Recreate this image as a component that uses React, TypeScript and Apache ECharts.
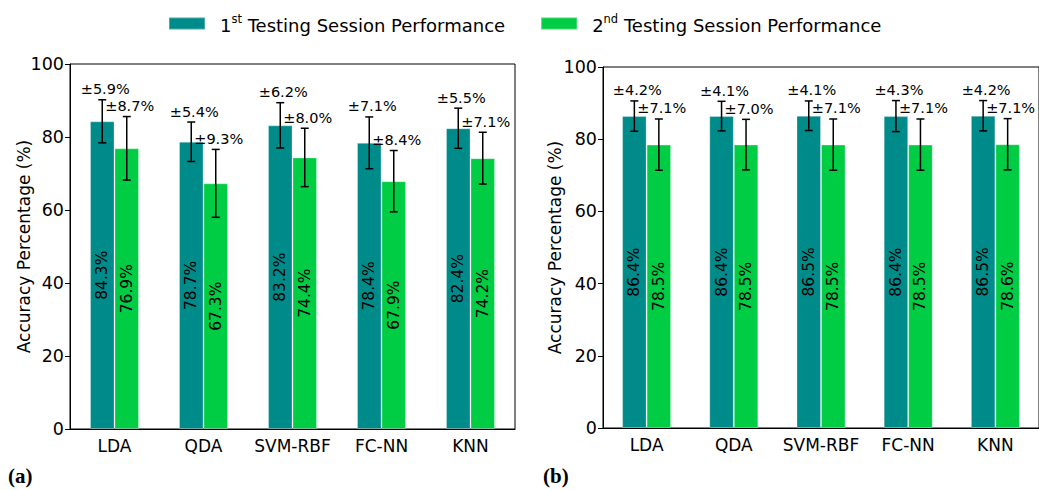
import React, { useEffect, useRef } from "react";
import * as echarts from "echarts";

const categories = ["LDA", "QDA", "SVM-RBF", "FC-NN", "KNN"];
const aSession1 = [84.3, 78.7, 83.2, 78.4, 82.4];
const aSession1Err = [5.9, 5.4, 6.2, 7.1, 5.5];
const aSession2 = [76.9, 67.3, 74.4, 67.9, 74.2];
const aSession2Err = [8.7, 9.3, 8.0, 8.4, 7.1];
const bSession1 = [86.4, 86.4, 86.5, 86.4, 86.5];
const bSession1Err = [4.2, 4.1, 4.1, 4.3, 4.2];
const bSession2 = [78.5, 78.5, 78.5, 78.5, 78.6];
const bSession2Err = [7.1, 7.0, 7.1, 7.1, 7.1];
const yTicks = [0, 20, 40, 60, 80, 100];

const S1 = "1st Testing Session Performance";
const S2 = "2nd Testing Session Performance";
const TEAL = "#008b8b";
const GREEN = "#00cc44";
const FONT = "DejaVu Sans";
const BAR_W = 24.5;

function barSeries(name: string, data: number[], color: string, gi: number) {
  return {
    type: "bar",
    name,
    xAxisIndex: gi,
    yAxisIndex: gi,
    data,
    barWidth: BAR_W,
    barGap: "0%",
    itemStyle: { color, borderColor: "rgba(255,255,255,0.28)", borderWidth: 1 },
    label: {
      show: true,
      position: "inside",
      rotate: 90,
      fontFamily: FONT,
      fontSize: 15.5,
      color: "#000",
      formatter: (p: any) => Number(p.value).toFixed(1) + "%",
    },
    z: 2,
  };
}

function errSeries(vals: number[], errs: number[], side: number, gi: number) {
  return {
    type: "custom",
    name: "err" + gi + side,
    xAxisIndex: gi,
    yAxisIndex: gi,
    clip: false,
    z: 5,
    encode: { x: 0, y: 1 },
    data: vals.map((v, i) => [i, v, errs[i]]),
    renderItem: (params: any, api: any) => {
      const i = api.value(0);
      const v = api.value(1);
      const e = api.value(2);
      const c = api.coord([i, v]);
      const x = c[0] + side * (BAR_W / 2);
      const yt = api.coord([i, v + e])[1];
      const yb = api.coord([i, v - e])[1];
      const ls = { stroke: "#000", lineWidth: 1.5 };
      return {
        type: "group",
        children: [
          { type: "line", shape: { x1: x, y1: yt, x2: x, y2: yb }, style: ls },
          { type: "line", shape: { x1: x - 4, y1: yt, x2: x + 4, y2: yt }, style: ls },
          { type: "line", shape: { x1: x - 4, y1: yb, x2: x + 4, y2: yb }, style: ls },
          {
            type: "text",
            x: x + 3,
            y: yt - 3,
            style: {
              text: "±" + Number(e).toFixed(1) + "%",
              fontFamily: FONT,
              fontSize: 14.5,
              fill: "#000",
              align: "center",
              verticalAlign: "bottom",
            },
          },
        ],
      };
    },
  };
}

function yAxis(gi: number, gap: number) {
  return {
    type: "value",
    gridIndex: gi,
    min: yTicks[0],
    max: yTicks[yTicks.length - 1],
    interval: 20,
    name: "Accuracy Percentage (%)",
    nameLocation: "middle",
    nameGap: gap,
    nameMoveOverlap: false,
    nameTextStyle: { fontFamily: FONT, fontSize: 17, color: "#000" },
    axisLine: { show: true, lineStyle: { color: "#000", width: 1 } },
    axisTick: { show: true, length: 5, lineStyle: { color: "#000" } },
    axisLabel: { fontFamily: FONT, fontSize: 17.5, color: "#000", margin: 6 },
    splitLine: { show: false },
  };
}

function xAxis(gi: number) {
  return {
    type: "category",
    gridIndex: gi,
    data: categories,
    boundaryGap: true,
    axisLine: { show: true, lineStyle: { color: "#000", width: 1 } },
    axisTick: { show: false },
    axisLabel: { fontFamily: FONT, fontSize: 17, color: "#000", margin: 8, interval: 0 },
  };
}

export default function App() {
  const ref = useRef<HTMLDivElement>(null);
  useEffect(() => {
    if (!ref.current) return;
    const chart = echarts.init(ref.current, null, { renderer: "svg" });
    chart.setOption({
      animation: false,
      backgroundColor: "#fff",
      legend: {
        data: [S1, S2],
        left: 163,
        top: 8,
        icon: "rect",
        itemWidth: 36,
        itemHeight: 12,
        itemGap: 35,
        formatter: (name: string) =>
          name === S1
            ? "{n|1}{sup|st}{n| Testing Session Performance}"
            : "{n|2}{sup|nd}{n| Testing Session Performance}",
        textStyle: {
          fontFamily: FONT,
          fontSize: 18,
          color: "#000",
          padding: [0, 0, 0, 10],
          rich: {
            n: { fontFamily: FONT, fontSize: 18, color: "#000", lineHeight: 21, verticalAlign: "bottom" },
            sup: { fontFamily: FONT, fontSize: 11.5, color: "#000", lineHeight: 12, verticalAlign: "top" },
          },
        },
      },
      grid: [
        { left: 70, right: 524, top: 64, bottom: 61, show: true, borderColor: "#000", borderWidth: 1, backgroundColor: "transparent" },
        { left: 603, right: -3, top: 67, bottom: 62, show: true, borderColor: "#000", borderWidth: 1, backgroundColor: "transparent" },
      ],
      xAxis: [xAxis(0), xAxis(1)],
      yAxis: [yAxis(0, 37.5), yAxis(1, 40)],
      series: [
        barSeries(S1, aSession1, TEAL, 0),
        barSeries(S2, aSession2, GREEN, 0),
        barSeries(S1, bSession1, TEAL, 1),
        barSeries(S2, bSession2, GREEN, 1),
        errSeries(aSession1, aSession1Err, -1, 0),
        errSeries(aSession2, aSession2Err, 1, 0),
        errSeries(bSession1, bSession1Err, -1, 1),
        errSeries(bSession2, bSession2Err, 1, 1),
      ],
      graphic: [
        { type: "text", left: 8, top: 465, style: { text: "(a)", fontFamily: "Liberation Serif", fontWeight: "bold", fontSize: 21, fill: "#000" } },
        { type: "text", left: 543, top: 465, style: { text: "(b)", fontFamily: "Liberation Serif", fontWeight: "bold", fontSize: 21, fill: "#000" } },
      ],
    });
    return () => chart.dispose();
  }, []);
  return (
    <div
      ref={ref}
      style={{ position: "fixed", left: 0, top: 0, width: 1039, height: 490 }}
    />
  );
}
